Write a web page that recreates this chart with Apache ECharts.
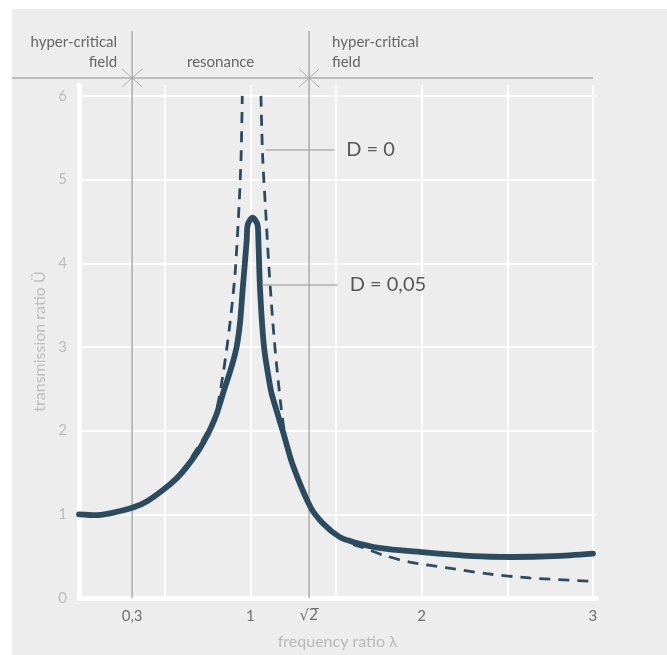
<!DOCTYPE html>
<html><head><meta charset="utf-8">
<script src="https://cdn.jsdelivr.net/npm/echarts@6/dist/echarts.min.js"></script>
<style>
html,body{margin:0;padding:0;background:#fff;}
#bg{position:absolute;left:12px;top:9px;right:0;bottom:0;background:#ededed;}
#c{position:absolute;left:0;top:0;width:667px;height:655px;}
</style></head>
<body>
<div id="bg"></div>
<div id="c"></div>
<script>
// ---- data ----
const dampedLambda = [0.00,0.10,0.20,0.315,0.40,0.49,0.57,0.63,0.70,0.75,0.80,0.846,0.89,0.92,0.94,0.955,0.968,0.979,0.985,1.013,1.042,1.047,1.057,1.08,1.119,1.134,1.193,1.251,1.35,1.42,1.52,1.60,1.75,1.99,2.30,2.53,2.77,3.00];
const dampedRatio  = [1.00,0.99,1.02,1.08,1.16,1.29,1.43,1.57,1.77,1.95,2.18,2.48,2.76,3.00,3.29,3.68,4.00,4.28,4.46,4.545,4.46,4.28,3.68,3.00,2.49,2.37,1.97,1.57,1.09,0.90,0.73,0.67,0.60,0.55,0.50,0.49,0.50,0.53];
const undampedLambda = [0.00,0.20,0.315,0.40,0.49,0.57,0.63,0.70,0.75,0.794,0.842,0.881,0.911,0.934,0.946,0.953,1.00,1.062,1.072,1.088,1.111,1.140,1.179,1.208,1.235,1.30,1.35,1.42,1.52,1.60,1.66,1.78,1.93,2.15,2.38,2.63,3.00];
const undampedRatio  = [1.00,1.02,1.09,1.17,1.30,1.45,1.60,1.82,1.99,2.17,2.69,3.28,3.88,4.68,5.27,6.00,null,6.00,5.27,4.68,3.88,3.08,2.29,1.87,1.63,1.31,1.08,0.89,0.72,0.64,0.60,0.51,0.43,0.36,0.29,0.24,0.20];
const xTickValues = [0.31,1,1.343,2,3];
const xTickLabels = ['0,3','1','√2\u0305','2','3'];
const zoneBounds = [0.31,1.343];
const labelD0 = 'D = 0';
const labelD005 = 'D = 0,05';
const leaderD0 = [[1.09,5.36],[1.49,5.36]];
const leaderD005 = [[1.07,3.74],[1.51,3.74]];

const zip = (a,b)=>a.map((v,i)=>[v, b[i]===null ? '-' : b[i]]);
const ink = '#2c4b60';
const FONT = 'Lato, "Open Sans", sans-serif';

const chart = echarts.init(document.getElementById('c'), null, {renderer:'canvas'});
chart.setOption({
  backgroundColor:'transparent',
  animation:false,
  grid:{left:79, top:85, width:517.4, height:513, containLabel:false},
  xAxis:{
    type:'value', min:0, max:3.02, interval:0.5,
    name:'frequency ratio λ', nameLocation:'middle', nameGap:36,
    nameTextStyle:{color:'#b9b9b9', fontSize:16, fontFamily:FONT},
    axisLine:{show:true, lineStyle:{color:'#fff', width:5, cap:'round'}},
    axisTick:{show:false},
    splitLine:{show:true, showMaxLine:false, lineStyle:{color:'#fff', width:2}},
    axisLabel:{customValues:xTickValues, margin:11, color:'#707070', fontSize:15, fontFamily:FONT,
      rich:{s:{fontFamily:'"DejaVu Sans"', fontSize:15, color:'#707070'}},
      formatter:(v)=>{const i=xTickValues.indexOf(v); if(i<0) return ''; return i===2?'{s|'+xTickLabels[i]+'}':xTickLabels[i];}}
  },
  yAxis:{
    type:'value', min:0, max:6.13, interval:1,
    name:'transmission ratio Ü', nameLocation:'middle', nameGap:29,
    nameTextStyle:{color:'#bdbdbd', fontSize:16, fontFamily:FONT},
    axisLine:{show:true, lineStyle:{color:'#fff', width:5, cap:'round'}},
    axisTick:{show:false},
    splitLine:{show:true, showMaxLine:false, lineStyle:{color:'#fff', width:2}},
    axisLabel:{showMaxLabel:false, margin:12, color:'#bcbcbc', fontSize:15, fontFamily:FONT,
      formatter:(v)=>Number.isInteger(v)?String(v):''}
  },
  series:[
    {
      type:'line', name:'D = 0', data:zip(undampedLambda, undampedRatio),
      smooth:0.3, showSymbol:false, connectNulls:false, z:3,
      lineStyle:{color:ink, width:2.8, type:[11,8], cap:'butt'},
      markLine:{silent:true, symbol:'none',
        lineStyle:{color:'#b0b0b0', width:1.5, type:'solid'},
        label:{show:true, position:'end', distance:12, formatter:labelD0, color:'#585858', fontSize:20, fontFamily:FONT},
        data:[[{coord:leaderD0[0]},{coord:leaderD0[1]}]]}
    },
    {
      type:'line', name:'D = 0,05', data:zip(dampedLambda, dampedRatio),
      smooth:0.3, showSymbol:false, z:4,
      lineStyle:{color:ink, width:5.8, cap:'round', join:'round'},
      markLine:{silent:true, symbol:'none',
        lineStyle:{color:'#b0b0b0', width:1.5, type:'solid'},
        label:{show:true, position:'end', distance:12, formatter:labelD005, color:'#585858', fontSize:20, fontFamily:FONT},
        data:[[{coord:leaderD005[0]},{coord:leaderD005[1]}]]}
    }
  ]
});

// header annotations placed through the axis scales
const px = v => chart.convertToPixel({xAxisIndex:0}, v);
const py = v => chart.convertToPixel({yAxisIndex:0}, v);
const b0 = px(zoneBounds[0]), b1 = px(zoneBounds[1]);
const right = px(3), y0 = py(0);
const gray = '#acacac';
const hdrY = 78;
const els = [];
els.push({type:'line', z:1, shape:{x1:12, y1:hdrY, x2:right, y2:hdrY}, style:{stroke:gray, lineWidth:1.5}});
[b0,b1].forEach(b=>{
  els.push({type:'line', z:1, shape:{x1:b, y1:31, x2:b, y2:y0}, style:{stroke:gray, lineWidth:1.5}});
  els.push({type:'line', z:1, shape:{x1:b-10, y1:hdrY-9, x2:b+10, y2:hdrY+9}, style:{stroke:gray, lineWidth:1}});
  els.push({type:'line', z:1, shape:{x1:b-10, y1:hdrY+9, x2:b+10, y2:hdrY-9}, style:{stroke:gray, lineWidth:1}});
});
const tstyle = {fill:'#666', fontSize:15, fontFamily:FONT, lineHeight:20};
els.push({type:'text', z:1, x:b0-15, y:32, style:Object.assign({text:'hyper-critical\nfield', align:'right', verticalAlign:'top'}, tstyle)});
els.push({type:'text', z:1, x:(b0+b1)/2, y:52, style:Object.assign({text:'resonance', align:'center', verticalAlign:'top'}, tstyle)});
els.push({type:'text', z:1, x:b1+23, y:32, style:Object.assign({text:'hyper-critical\nfield', align:'left', verticalAlign:'top'}, tstyle)});
chart.setOption({graphic:{elements:els}});
</script>
</body></html>
